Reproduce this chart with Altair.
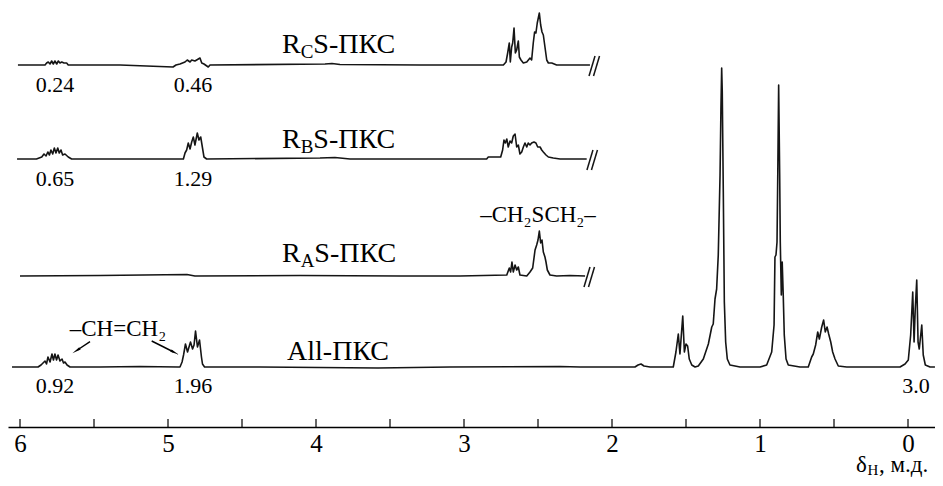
import altair as alt
import pandas as pd
import numpy as np

PX = 148.0          # pixels per ppm on the reference axis
X_LEFT, X_RIGHT = 6.0811, -0.1824
FONT = "Liberation Serif"

# ---------------- spectra (ppm, intensity above each trace's baseline) ----------------
all_ppm = [6.054, 5.892, 5.878, 5.858, 5.831, 5.821, 5.811, 5.797, 5.784, 5.774, 5.764, 5.753, 5.743,
           5.730, 5.716, 5.706, 5.696, 5.682, 5.662, 5.459, 5.189, 4.932,
           4.919, 4.905, 4.895, 4.882, 4.868, 4.848, 4.834, 4.824, 4.814, 4.801, 4.787, 4.774, 4.767, 4.753,
           4.378, 3.581, 3.095, 2.351, 2.216, 1.845, 1.824, 1.804, 1.784, 1.743,
           1.586, 1.568, 1.552, 1.541, 1.522, 1.511, 1.500, 1.489, 1.478, 1.461, 1.439,
           1.417, 1.383, 1.349, 1.326, 1.316, 1.304, 1.293, 1.282, 1.270, 1.264, 1.259, 1.255, 1.248,
           1.241, 1.232, 1.221, 1.203, 1.135, 1.000,
           0.955, 0.921, 0.905, 0.899, 0.892, 0.885, 0.880, 0.874, 0.867, 0.863, 0.856, 0.850, 0.843,
           0.836, 0.824, 0.809, 0.730,
           0.674, 0.651, 0.640, 0.624, 0.610, 0.599, 0.583, 0.570, 0.559, 0.547, 0.536, 0.522, 0.509,
           0.493, 0.471, 0.414, 0.054,
           0.020, -0.002, -0.018, -0.032, -0.041, -0.049, -0.059, -0.068, -0.076, -0.093, -0.103, -0.117,
           -0.149, -0.182]
all_int = [0, 0, 0, 2, 6, 3, 10, 5, 13, 7, 13, 7, 12,
           6, 8, 4, 5, 2, 0, 0, 0.5, 0,
           0, 5, 12, 23, 15, 25, 18, 22, 36, 20, 27, 10, 3, 0,
           0, -1, 0, 0.5, 0, 0, 2, 3, 1, 0,
           0, 15, 33, 13, 51, 15, 23, 21, 8, 2, 0,
           1, 8, 23, 40, 43, 68, 78, 112, 192, 258, 299, 275, 175,
           65, 25, 8, 2, 0, 0,
           2, 15, 42, 110, 112, 125, 192, 282, 192, 125, 72, 105, 72,
           32, 8, 2, 0,
           0, 10, 13, 22, 35, 28, 40, 47, 35, 40, 33, 25, 15,
           8, 1, 0, 0,
           3, 7, 32, 75, 25, 58, 87, 25, 18, 42, 12, 2,
           0, 0]

ra_ppm = [6.000, 5.459, 4.872, 4.818, 4.108, 3.432, 3.027,
          2.711, 2.694, 2.685, 2.676, 2.667, 2.655, 2.644, 2.633, 2.622, 2.576,
          2.554, 2.536, 2.520, 2.509, 2.500, 2.491, 2.482, 2.473, 2.464, 2.453, 2.446, 2.437,
          2.419, 2.374, 2.284, 2.182]
ra_int = [0, 0.5, 1.5, 0, 0.5, 0, 0,
          1, 8, 4, 14, 4, 11, 6, 9, 1, 0,
          4, 8, 26, 31, 36, 45, 33, 36, 24, 19, 14, 6,
          1, 0, 0.5, 0]

rb_ppm = [6.020, 5.889, 5.853, 5.838, 5.824, 5.812, 5.801, 5.791, 5.779, 5.768, 5.757, 5.745, 5.735,
          5.723, 5.712, 5.696, 5.674, 5.651, 5.257,
          4.896, 4.885, 4.874, 4.863, 4.851, 4.840, 4.829, 4.818, 4.802, 4.791, 4.779, 4.768, 4.757, 4.739,
          3.973, 3.872, 3.770, 2.892,
          2.847, 2.836, 2.780, 2.752, 2.739, 2.730, 2.721, 2.711, 2.701, 2.689, 2.678, 2.667, 2.655,
          2.644, 2.633, 2.622, 2.610, 2.599, 2.588, 2.576, 2.566, 2.554, 2.543, 2.527, 2.514, 2.502,
          2.486, 2.475, 2.464, 2.446, 2.430, 2.397, 2.351, 2.171]
rb_int = [0, 0, 2, 5, 3, 7, 4, 9, 5, 11, 6, 11, 6,
          9, 4, 5, 2, 0, 0,
          0, 6, 9, 16, 10, 17, 22, 14, 26, 19, 22, 12, 2, 0,
          1, 1.5, 0, 0,
          0, 2, 2, 2, 9, 19, 16, 20, 12, 18, 16, 23, 25,
          12, 14, 5, 7, 12, 16, 12, 16, 14, 16, 17, 16, 12,
          12, 9, 7, 4, 2, 1, 0, 0]

rc_ppm = [6.014, 5.831, 5.820, 5.809, 5.797, 5.786, 5.775, 5.764, 5.752, 5.741, 5.730, 5.718, 5.703,
          5.685, 5.674, 5.324,
          4.966, 4.946, 4.919, 4.885, 4.870, 4.851, 4.840, 4.818, 4.795, 4.784, 4.772, 4.757, 4.728, 4.716,
          3.939, 3.892, 3.838, 3.297,
          2.734, 2.716, 2.705, 2.694, 2.687, 2.678, 2.671, 2.662, 2.653, 2.644, 2.633, 2.626, 2.615,
          2.599, 2.576, 2.554, 2.543, 2.532, 2.523, 2.514, 2.505, 2.491, 2.482, 2.473, 2.464, 2.453,
          2.441, 2.430, 2.407, 2.374, 2.149]
rc_int = [0, 0, 2, 3, 1, 4, 1, 4, 1, 4, 2, 3, 2,
          2, 0, 0,
          -2, 0, 1, 3, 5, 3, 5, 4, 6, 7, 2, 1, -2, 0,
          1, 1.5, 0.5, 0,
          0, 3, 12, 22, 3, 18, 22, 37, 12, 15, 24, 8, 5,
          2, 3, 7, 5, 22, 33, 32, 42, 52, 40, 33, 30, 18,
          5, 2, 2, 0, 0]

spectra = ["All", "RA", "RB", "RC"]
baselines = [60, 151, 268, 362]          # vertical offset of each trace
break_ppm = [None, 2.169, 2.149, 2.135]  # position of the "//" break mark

# ---------------- labels ----------------
tick_values = [6, 5.5, 5, 4.5, 4, 3.5, 3, 2.5, 2, 1.5, 1, 0.5, 0]
axis_labels = [0, 1, 2, 3, 4, 5, 6]

num_text = ["0.24", "0.46", "0.65", "1.29", "0.92", "1.96", "3.0"]
num_ppm = [5.764, 4.831, 5.764, 4.831, 5.764, 4.831, -0.054]
num_v = [335, 335, 241, 241, 34, 34, 34]

name_subs = ["C", "B", "A"]
name_sub_w = [0.667, 0.667, 0.722]
name_ppm = 4.230
name_v = [374, 279, 165]

# ---------------- build data ----------------
rows = []
for name, p, it, base in zip(spectra, [all_ppm, ra_ppm, rb_ppm, rc_ppm],
                             [all_int, ra_int, rb_int, rc_int], baselines):
    for i, (a, b) in enumerate(zip(p, it)):
        rows.append({"spec": name, "idx": i, "ppm": a, "v": base + b})
spec_df = pd.DataFrame(rows)

xs = alt.Scale(domain=[X_LEFT, X_RIGHT], nice=False, zero=False)
ys = alt.Scale(domain=[0, 419], nice=False, zero=False)
x_axis = alt.Axis(values=axis_labels, format="d", ticks=False, grid=False, title=None,
                  labelFont=FONT, labelFontSize=25, labelColor="black", labelPadding=4,
                  domainColor="black", domainWidth=1.3, labelFlush=False, labelOverlap=False)

X = lambda f="ppm": alt.X(f"{f}:Q", scale=xs, axis=x_axis)
Y = lambda f="v": alt.Y(f"{f}:Q", scale=ys, axis=None)

lines = alt.Chart(spec_df).mark_line(color="#151515", strokeWidth=1.6, strokeJoin="round").encode(
    x=X(), y=Y(), detail="spec:N", order="idx:Q")

ticks_df = pd.DataFrame({"ppm": tick_values, "v0": 0, "v1": 8})
ticks = alt.Chart(ticks_df).mark_rule(color="black", strokeWidth=1.2).encode(
    x=X(), y=Y("v0"), y2="v1:Q")

# break marks "//"
brk = []
for bp, base in zip(break_ppm, baselines):
    if bp is None:
        continue
    for k in range(2):
        c = bp - k * 4.5 / PX
        brk.append({"x0": c + 3 / PX, "x1": c - 3 / PX, "y0": base - 11, "y1": base + 9})
brk_df = pd.DataFrame(brk)
breaks = alt.Chart(brk_df).mark_rule(color="#151515", strokeWidth=1.5).encode(
    x=X("x0"), x2="x1:Q", y=Y("y0"), y2="y1:Q")


def text_layer(df, align, color="black"):
    return alt.Chart(df).mark_text(font=FONT, align=align, baseline="alphabetic", color=color).encode(
        x=X(), y=Y(), text="t:N", size=alt.Size("fs:Q", scale=None))


num_df = pd.DataFrame({"ppm": num_ppm, "v": num_v, "t": num_text, "fs": 22})

NAME_FS, SUB_FS = 28, 19
name_rows = []
for sub, w, v in zip(name_subs, name_sub_w, name_v):
    sx = name_ppm - 0.667 * NAME_FS / PX
    rx = sx - w * SUB_FS / PX
    name_rows.append({"ppm": name_ppm, "v": v, "t": "R", "fs": NAME_FS})
    name_rows.append({"ppm": sx, "v": v - 5, "t": sub, "fs": SUB_FS})
    name_rows.append({"ppm": rx, "v": v, "t": "S-ПКС", "fs": NAME_FS})
# axis title  δ_H, м.д.
d_ppm = 0.352
name_rows.append({"ppm": d_ppm, "v": -45, "t": "δ", "fs": 23})
name_rows.append({"ppm": d_ppm - 11.5 / PX, "v": -47.5, "t": "H", "fs": 15})
name_rows.append({"ppm": d_ppm - 23 / PX, "v": -45, "t": ", м.д.", "fs": 23})
left_df = pd.DataFrame(name_rows)

center_df = pd.DataFrame({"ppm": [3.851, 5.338, 2.50],
                          "v": [67, 91, 205],
                          "t": ["All-ПКС", "–CH=CH₂", "–CH₂SCH₂–"],
                          "fs": [28, 23, 23]})

# arrows for –CH=CH2
arrow_start = [(5.527, 85.3), (5.110, 86.0)]
arrow_end = [(5.612, 77.0), (4.962, 75.0)]
arr = []
for (p0, v0), (p1, v1) in zip(arrow_start, arrow_end):
    dx = (p0 - p1) * PX
    dy = (v0 - v1)
    ang = (np.degrees(np.arctan2(dx, -dy)) + 360) % 360
    arr.append({"ppm": p0, "v": v0, "p1": p1, "v1": v1, "ang": float(ang)})
arr_df = pd.DataFrame(arr)
arrow_lines = alt.Chart(arr_df).mark_rule(color="black", strokeWidth=1.4).encode(
    x=X(), x2="p1:Q", y=Y(), y2="v1:Q")
arrow_heads = alt.Chart(arr_df).mark_point(shape="wedge", filled=True, color="black", size=110,
                                           opacity=1).encode(
    x=X("p1"), y=Y("v1"), angle=alt.Angle("ang:Q", scale=None))

chart = alt.layer(
    lines, ticks, breaks, arrow_lines, arrow_heads,
    text_layer(num_df, "center"), text_layer(left_df, "left"), text_layer(center_df, "center"),
).properties(
    width=927, height=419, autosize="none",
    padding={"left": 0, "top": 0, "right": 0, "bottom": 51},
    background="white",
).configure_view(stroke=None)

chart.save("out.html", embed_options={"renderer": "svg", "actions": False})
